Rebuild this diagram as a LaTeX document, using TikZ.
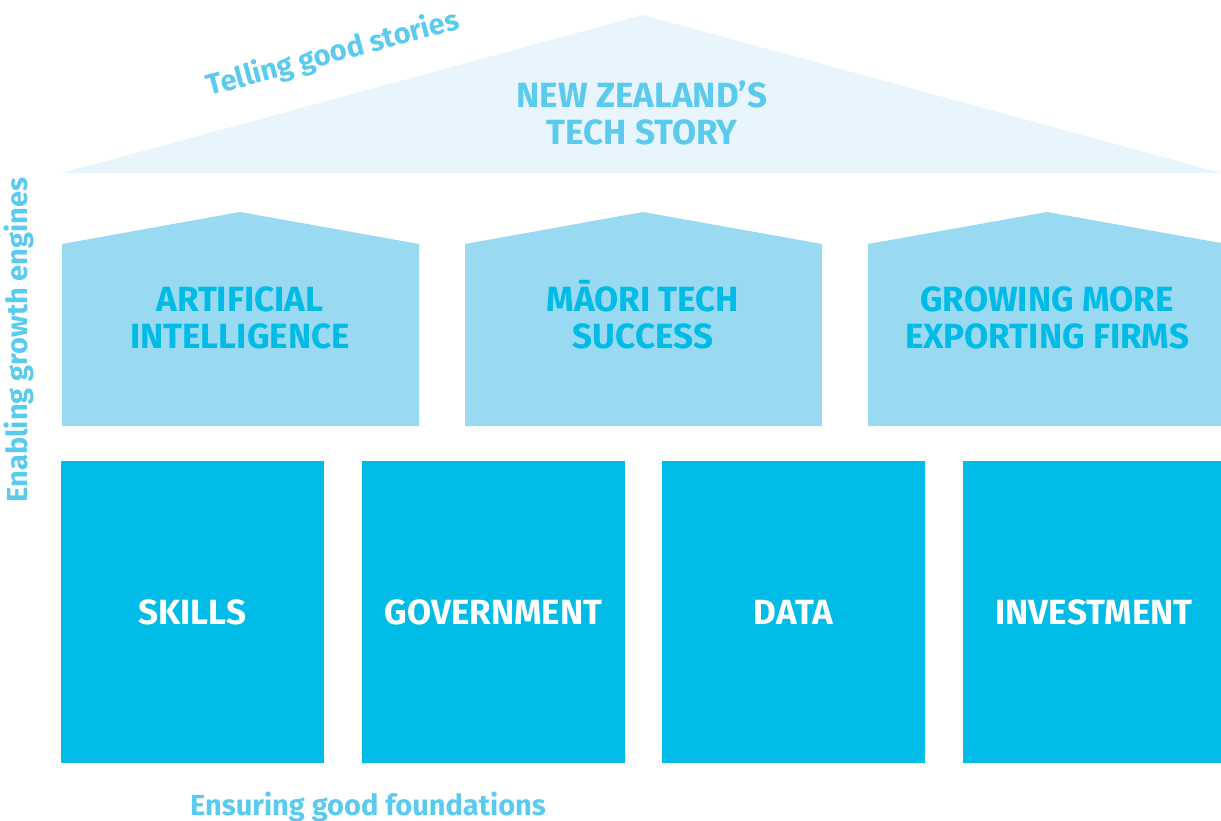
\documentclass[tikz,border=0pt]{standalone}
\usepackage{fontspec}
\setmainfont{Fira Sans}
\definecolor{roofc}{HTML}{E8F5FC}
\definecolor{housec}{HTML}{99D9F2}
\definecolor{boxc}{HTML}{00BCE6}
\definecolor{htext}{HTML}{00BBE6}
\definecolor{rtext}{HTML}{5BCAEF}
\tikzset{
  bigtxt/.style={font=\bfseries\fontsize{35}{37}\selectfont, align=center, inner sep=0pt},
  sidetxt/.style={font=\bfseries\fontsize{29}{32}\selectfont, text=rtext, inner sep=0pt},
}
\begin{document}
\begin{tikzpicture}[x=1pt,y=-1pt]
\useasboundingbox (0,0) rectangle (1221,821);
% roof
\fill[roofc] (62,173) -- (643,15) -- (1221,173) -- cycle;
\node[bigtxt, text=rtext] (nz) at (642,113) {NEW ZEALAND’S\\TECH STORY};
% houses
\fill[housec] (62,426) -- (62,244) -- (240,212) -- (419,244) -- (419,426) -- cycle;
\fill[housec] (465,426) -- (465,244) -- (643,212) -- (822,244) -- (822,426) -- cycle;
\fill[housec] (868,426) -- (868,244) -- (1047,212) -- (1221,243) -- (1221,426) -- cycle;
\node[bigtxt, text=htext] (ai) at (240,318) {ARTIFICIAL\\INTELLIGENCE};
\node[bigtxt, text=htext] (mt) at (643,315) {MĀORI TECH\\SUCCESS};
\node[bigtxt, text=htext] (gm) at (1047,318) {GROWING MORE\\EXPORTING FIRMS};
% boxes
\fill[boxc] (61,461) rectangle (324,763);
\fill[boxc] (362,461) rectangle (625,763);
\fill[boxc] (662,461) rectangle (925,763);
\fill[boxc] (963,461) rectangle (1221,763);
\node[bigtxt, text=white] (sk) at (192.5,612) {SKILLS};
\node[bigtxt, text=white] (gv) at (493.5,612) {GOVERNMENT};
\node[bigtxt, text=white] (dt) at (793.5,612) {DATA};
\node[bigtxt, text=white] (iv) at (1094,612) {INVESTMENT};
% side labels
\node[sidetxt, rotate=15] (tg) at (333,54) {Telling good stories};
\node[sidetxt, rotate=90] (eg) at (19,340) {Enabling growth engines};
\node[sidetxt] (ef) at (368,807) {Ensuring good foundations};
\end{tikzpicture}
\end{document}
